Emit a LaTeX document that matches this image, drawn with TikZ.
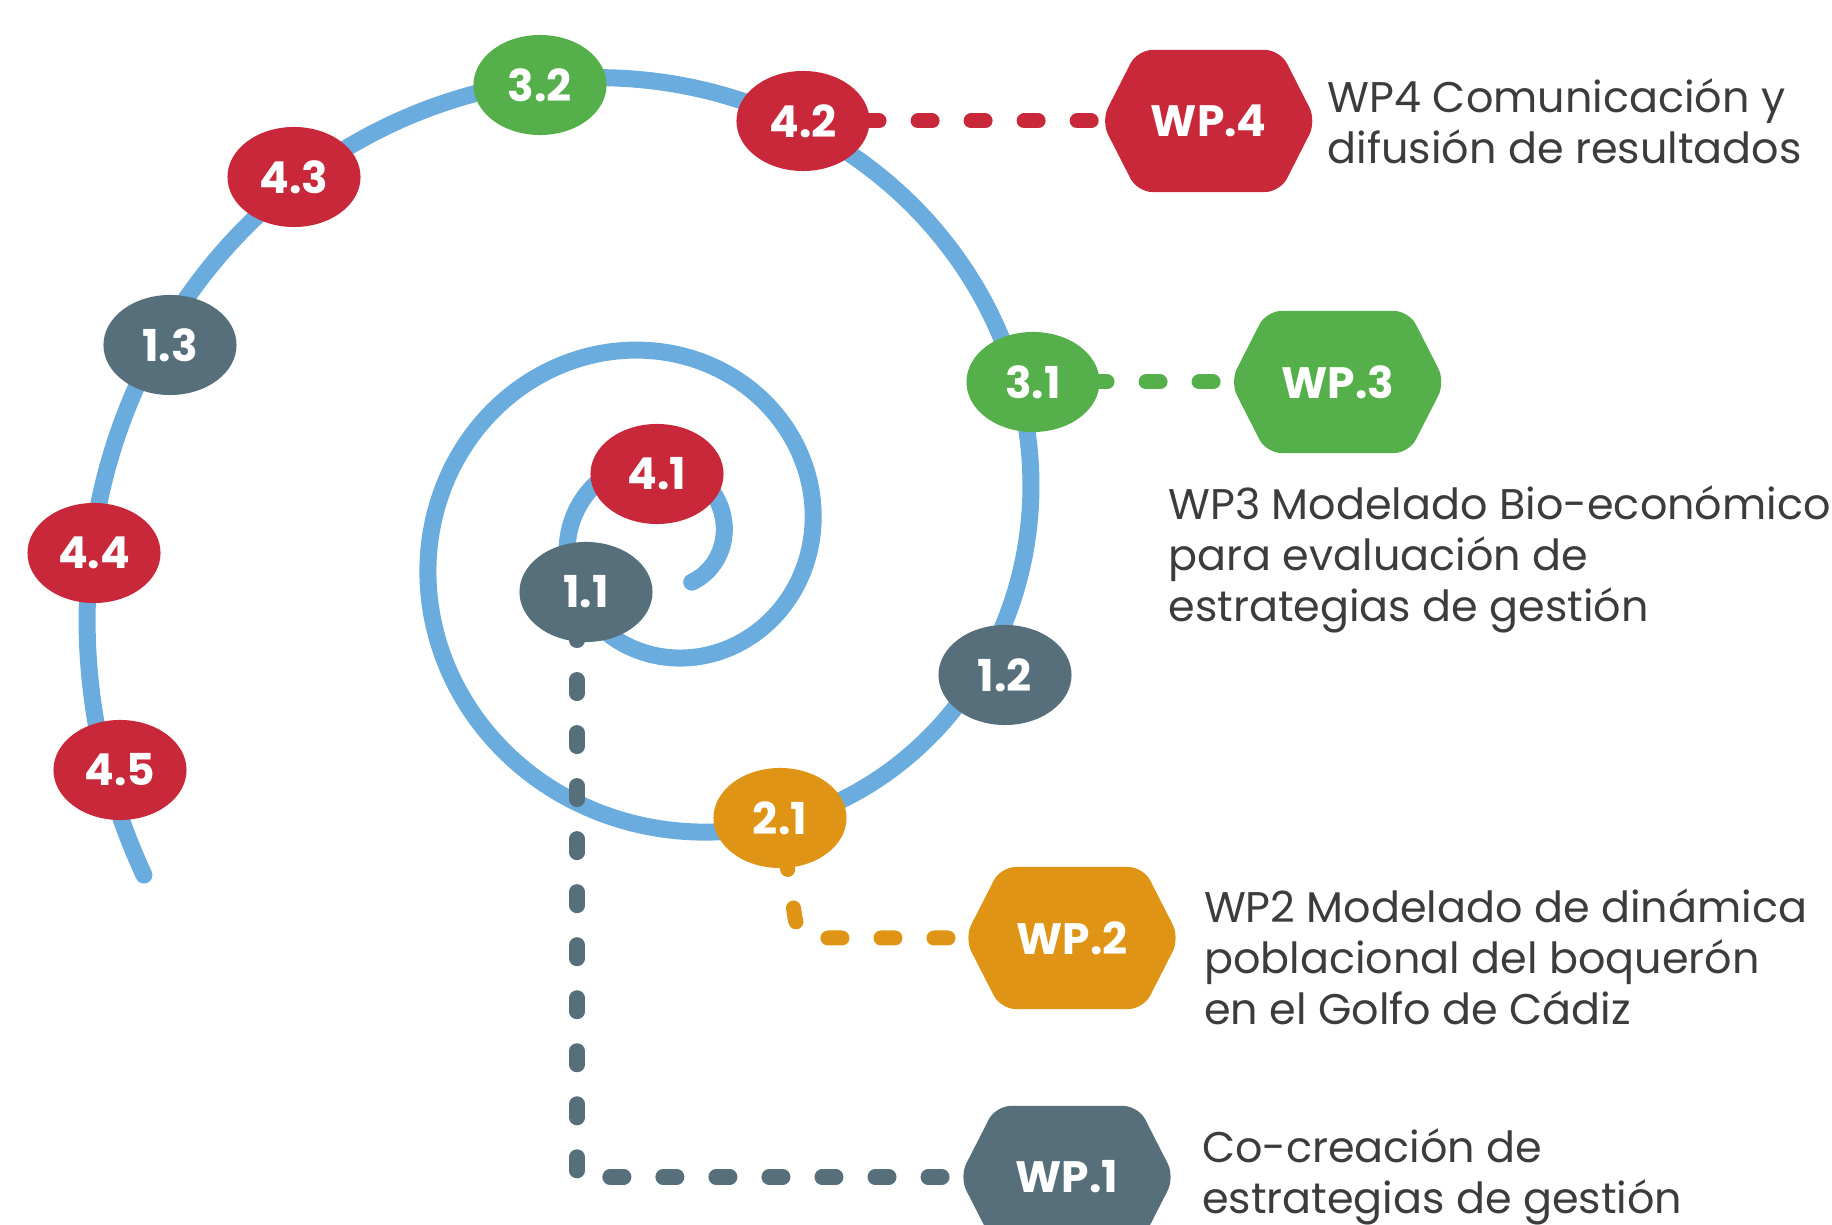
\documentclass[tikz,border=0pt]{standalone}
\usepackage{fontspec}
\setmainfont{Poppins}
\usetikzlibrary{positioning,backgrounds,shapes.geometric,shapes.symbols}

\definecolor{wpred}{HTML}{C8283A}
\definecolor{wpgreen}{HTML}{55B04B}
\definecolor{wpgrey}{HTML}{566F7B}
\definecolor{wporange}{HTML}{DF9416}
\definecolor{spiralblue}{HTML}{6AACDD}
\definecolor{txtgrey}{HTML}{3C3C3C}

\begin{document}
\begin{tikzpicture}[x=0.01cm, y=-0.01cm,
    task/.style={ellipse, fill=#1, text=white, minimum width=1.33cm, minimum height=1cm, inner sep=0pt, font=\fontsize{12.5}{14}\selectfont\bfseries},
    wp/.style={signal, signal to=east and west, signal pointer angle=126, fill=#1, text=white, minimum width=2.15cm, minimum height=1.42cm, inner sep=0pt, rounded corners=0.15cm, font=\fontsize{12.5}{14}\selectfont\bfseries},
    desc/.style={align=left, inner sep=0pt, text=txtgrey, font=\fontsize{12.2}{14.6}\selectfont},
    link/.style={draw=#1, line width=0.15cm, line cap=round, dash pattern=on 0.14cm off 0.39cm},
    spiral/.style={draw=spiralblue, line width=0.17cm, line cap=round}]
    \useasboundingbox (0,0) rectangle (1832,1225);

    \node[task=wpred] (n41) at (657,474) {4.1};
    \node[task=wpgrey] (n11) at (586,592) {1.1};
    \node[task=wporange] (n21) at (780,818) {2.1};
    \node[task=wpgrey] (n12) at (1005,675) {1.2};
    \node[task=wpgreen] (n31) at (1033,382) {3.1};
    \node[task=wpred] (n42) at (803,121) {4.2};
    \node[task=wpgreen] (n32) at (540,85) {3.2};
    \node[task=wpred] (n43) at (294,177) {4.3};
    \node[task=wpgrey] (n13) at (170,345) {1.3};
    \node[task=wpred] (n44) at (94,553) {4.4};
    \node[task=wpred] (n45) at (120,770) {4.5};

    \node[wp=wpred, right=2.3cm of n42] (wp4) {WP.4};
    \node[wp=wpgreen, right=1.29cm of n31] (wp3) {WP.3};
    \node[wp=wporange] (wp2) at (1072,938) {WP.2};
    \node[wp=wpgrey] (wp1) at (1067,1177) {WP.1};

    \node[desc, right=0.1cm of wp4] (t4) {WP4 Comunicación y\\difusión de resultados};
    \node[desc, below=0.31cm of wp3.south west, anchor=north west, xshift=-0.98cm] (t3) {WP3 Modelado Bio-económico\\para evaluación de\\estrategias de gestión};
    \node[desc, right=0.23cm of wp2, yshift=-0.19cm] (t2) {WP2 Modelado de dinámica\\poblacional del boquerón\\en el Golfo de Cádiz};
    \node[desc, right=0.26cm of wp1] (t1) {Co-creación de\\estrategias de gestión};

    \begin{scope}[on background layer]
        \draw[spiral] plot[domain=-57:933, samples=400, variable=\t, smooth]
            ({663+60.7*exp(0.896*\t/360)*cos(\t)}, {538-60.7*exp(0.896*\t/360)*sin(\t)});

        \draw[link=wpred, dash phase=0.44cm] (n42.center) -- (wp4.center);
        \draw[link=wpgreen, dash phase=0.46cm] (n31.center) -- (wp3.center);
        \draw[link=wporange, dash phase=0.15cm, rounded corners=0.2cm] (n21.center) -- ++(18,120) -- (wp2.center);
        \draw[link=wpgrey, dash phase=0.185cm] ([xshift=-0.09cm]n11.center) |- (wp1.center);
    \end{scope}
\end{tikzpicture}
\end{document}
